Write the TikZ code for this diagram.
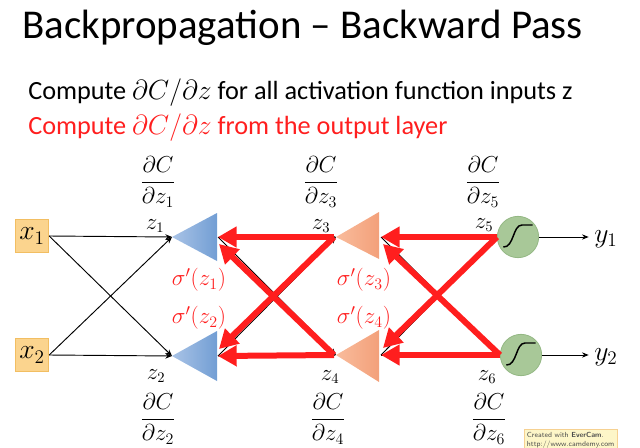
\documentclass[tikz,border=0pt]{standalone}
\usepackage{amsmath}
\usepackage{fontspec}
\setmainfont{Carlito}
\usetikzlibrary{arrows.meta,shapes.geometric}
\definecolor{redA}{HTML}{FF1E1E}
\definecolor{blueL}{HTML}{A9C3E6}
\definecolor{blueD}{HTML}{729ED4}
\definecolor{orgL}{HTML}{F9BC9C}
\definecolor{orgD}{HTML}{F3A07A}
\definecolor{grnF}{HTML}{A8C898}
\definecolor{grnB}{HTML}{94B884}
\definecolor{boxF}{HTML}{FBD48E}
\definecolor{boxB}{HTML}{F2BE62}
\definecolor{wmF}{HTML}{FDF6C8}
\begin{document}
\begin{tikzpicture}[x=0.75pt,y=-0.75pt,
  inbox/.style={draw=boxB,fill=boxF,line width=0.8pt,minimum width=25pt,minimum height=25pt,inner sep=1pt,font=\fontsize{20}{22}\selectfont},
  fwd/.style={-{Stealth[length=5pt,width=4pt]},line width=0.7pt,black},
  back/.style={-{Triangle[length=14pt,width=15pt]},line width=4.5pt,redA},
  zlab/.style={font=\fontsize{16}{18}\selectfont,inner sep=0pt},
  dlab/.style={font=\fontsize{17}{20}\selectfont,inner sep=0pt},
  slab/.style={font=\fontsize{18}{20}\selectfont,text=redA,inner sep=0pt},
  neuron/.style={circle,draw=grnB,fill=grnF,line width=0.6pt,minimum size=31pt,inner sep=0pt},
  ylab/.style={font=\fontsize{20}{22}\selectfont,inner sep=0pt}]
\useasboundingbox (0,0) rectangle (640,447);

% texts
\node[anchor=base west,inner sep=0pt,font=\fontsize{30.7}{34}\selectfont] (title) at (22,38) {Backpropagation -- Backward Pass};
\node[anchor=base west,inner sep=0pt,font=\fontsize{19.7}{23}\selectfont] (l1) at (28,99) {Compute $\partial C/\partial z$ for all activation function inputs z};
\node[anchor=base west,inner sep=0pt,font=\fontsize{19.7}{23}\selectfont,text=redA] (l2) at (28,134) {Compute $\partial C/\partial z$ from the output layer};

% input boxes
\node[inbox] (x1) at (32,236) {$x_1$};
\node[inbox] (x2) at (32,355) {$x_2$};

% coordinates
\coordinate (t1) at (172,237);
\coordinate (t2) at (172,356);
\coordinate (r1) at (218,237);
\coordinate (r2) at (218,356);
\coordinate (t3) at (336,237);
\coordinate (t4) at (336,355);
\coordinate (r3) at (381,237);
\coordinate (r4) at (381,355);

% triangles
\shade[left color=blueL,right color=blueD] (t1) -- (217,213) -- (217,261) -- cycle;
\shade[left color=blueL,right color=blueD] (t2) -- (217,331) -- (217,381) -- cycle;
\shade[left color=orgL,right color=orgD] (t3) -- (379,212) -- (379,259) -- cycle;
\shade[left color=orgL,right color=orgD] (t4) -- (379,330) -- (379,382) -- cycle;

% neurons
\node[neuron] (n5) at (518,237) {};
\node[neuron] (n6) at (521,355) {};
\foreach \n in {n5,n6}{
  \draw[line width=1.1pt] ([shift={(-11pt,-7.5pt)}]\n.center) .. controls ([shift={(-3pt,-8pt)}]\n.center) and ([shift={(-4pt,9pt)}]\n.center) .. ([shift={(3pt,9pt)}]\n.center) -- ([shift={(11pt,9pt)}]\n.center);
}

% first layer forward arrows
\draw[fwd] (x1.east) -- (t1);
\draw[fwd] (x1.east) -- (t2);
\draw[fwd] (x2.east) -- (t1);
\draw[fwd] (x2.east) -- (t2);

% hidden forward arrows (under red)
\draw[fwd] (r1) -- (t3);
\draw[fwd] (r1) -- (t4);
\draw[fwd] (r2) -- (t3);
\draw[fwd] (r2) -- (t4);
\draw[fwd] (r3) -- (n5.west);
\draw[fwd] (r3) -- (n6.west);
\draw[fwd] (r4) -- (n5.west);
\draw[fwd] (r4) -- (n6.west);

% backward red arrows
\coordinate (a1) at (219,244);
\coordinate (a2) at (219,349);
\coordinate (a3) at (383,244);
\coordinate (a4) at (383,348);
\coordinate (b3) at (334,237);
\coordinate (b4) at (334,355);
\draw[back] (b3) -- (r1);
\draw[back] (b4) -- (a1);
\draw[back] (b3) -- (a2);
\draw[back] (b4) -- (r2);
\draw[back] (n5.west) -- (r3);
\draw[back] (n6.west) -- (a3);
\draw[back] (n5.west) -- (a4);
\draw[back] (n6.west) -- (r4);

% outputs
\node[ylab,anchor=west] (y1) at (594,239) {$y_1$};
\node[ylab,anchor=west] (y2) at (594,357) {$y_2$};
\draw[fwd,shorten >=4pt] (n5.east) -- (n5.east -| y1.west);
\draw[fwd,shorten >=4pt] (n6.east) -- (n6.east -| y2.west);

% z labels
\node[zlab] (z1) at (155,226) {$z_1$};
\node[zlab] (z2) at (156,376) {$z_2$};
\node[zlab] (z3) at (321,226) {$z_3$};
\node[zlab] (z4) at (330,377) {$z_4$};
\node[zlab] (z5) at (484,225) {$z_5$};
\node[zlab] (z6) at (487,377) {$z_6$};

% derivative labels
\node[dlab] (d1) at (158,182) {$\dfrac{\partial C}{\partial z_1}$};
\node[dlab] (d2) at (158,419) {$\dfrac{\partial C}{\partial z_2}$};
\node[dlab] (d3) at (321,182) {$\dfrac{\partial C}{\partial z_3}$};
\node[dlab] (d4) at (328,419) {$\dfrac{\partial C}{\partial z_4}$};
\node[dlab] (d5) at (483,182) {$\dfrac{\partial C}{\partial z_5}$};
\node[dlab] (d6) at (489,419) {$\dfrac{\partial C}{\partial z_6}$};

% sigma primes
\node[slab] (s1) at (199,280) {$\sigma'(z_1)$};
\node[slab] (s2) at (199,318) {$\sigma'(z_2)$};
\node[slab] (s3) at (364,280) {$\sigma'(z_3)$};
\node[slab] (s4) at (364,318) {$\sigma'(z_4)$};

% watermark
\begin{scope}
\clip (0,0) rectangle (640,447);
\node[draw=boxB!70,fill=wmF,line width=0.4pt,anchor=north west,inner sep=2pt,align=left,font=\sffamily\fontsize{5.5}{7}\selectfont,text=black!70] (wm) at (524,429) {Created with \textbf{EverCam}.\\http://www.camdemy.com};
\end{scope}
\end{tikzpicture}
\end{document}
